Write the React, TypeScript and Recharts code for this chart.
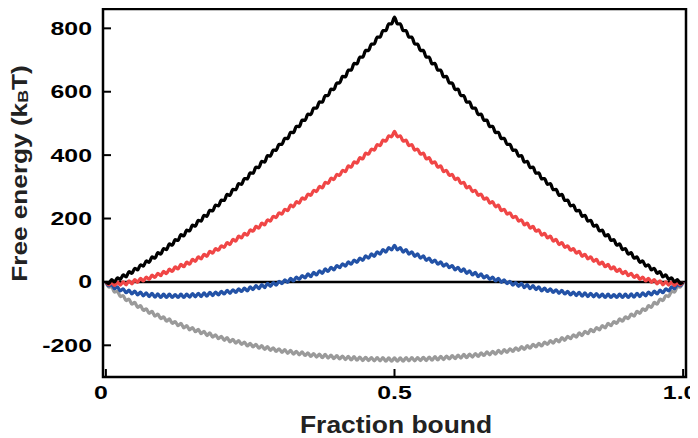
import React from 'react';
import { LineChart, Line, XAxis, YAxis, ReferenceLine, ReferenceArea, Label } from 'recharts';

// free energy (kBT) sampled every 0.005 of fraction bound, 0 -> 1
const blackSeries = [
  0, -5, 7, 0, 13, 8, 22, 16, 32, 27, 43, 38, 54, 50, 66, 62, 79, 75, 92, 88,
  105, 102, 120, 116, 133, 131, 149, 145, 163, 161, 179, 176, 194, 192, 210, 207, 226, 224, 242, 240,
  258, 257, 276, 273, 292, 291, 310, 308, 326, 325, 344, 343, 362, 361, 380, 378, 398, 397, 416, 415,
  434, 434, 453, 452, 472, 471, 491, 490, 510, 510, 529, 528, 548, 548, 568, 567, 588, 588, 608, 607,
  627, 628, 648, 647, 668, 668, 689, 688, 709, 709, 730, 730, 750, 751, 772, 772, 793, 793, 814, 814,
  835,
  814, 814, 793, 793, 772, 772, 751, 750, 730, 730, 709, 709, 688, 689, 668, 668, 647, 648, 628, 627,
  607, 608, 588, 588, 567, 568, 548, 548, 528, 529, 510, 510, 490, 491, 471, 472, 452, 453, 434, 434,
  415, 416, 397, 398, 378, 380, 361, 362, 343, 344, 325, 326, 308, 310, 291, 292, 273, 276, 257, 258,
  240, 242, 224, 226, 207, 210, 192, 194, 176, 179, 161, 163, 145, 149, 131, 133, 116, 120, 102, 105,
  88, 92, 75, 79, 62, 66, 50, 54, 38, 43, 27, 32, 16, 22, 8, 13, 0, 7, -5, 0,
];

const redSeries = [
  0, -9, -1, -11, -1, -10, 0, -9, 3, -6, 7, -1, 11, 3, 15, 8, 21, 14, 27, 20,
  33, 26, 40, 33, 47, 41, 55, 48, 62, 56, 71, 65, 79, 73, 87, 81, 96, 91, 105, 100,
  114, 109, 124, 118, 134, 129, 144, 139, 153, 148, 164, 160, 175, 170, 185, 180, 196, 192, 207, 203,
  218, 214, 229, 225, 242, 237, 253, 249, 265, 261, 277, 273, 289, 285, 301, 297, 314, 311, 327, 323,
  339, 336, 352, 348, 366, 362, 379, 375, 392, 388, 406, 403, 419, 416, 433, 430, 447, 444, 461, 458,
  475,
  458, 461, 444, 447, 430, 433, 416, 419, 403, 406, 388, 392, 375, 379, 362, 366, 348, 352, 336, 339,
  323, 327, 311, 314, 297, 301, 285, 289, 273, 277, 261, 265, 249, 253, 237, 242, 225, 229, 214, 218,
  203, 207, 192, 196, 180, 185, 170, 175, 160, 164, 148, 153, 139, 144, 129, 134, 118, 124, 109, 114,
  100, 105, 91, 96, 81, 87, 73, 79, 65, 71, 56, 62, 48, 55, 41, 47, 33, 40, 26, 33,
  20, 27, 14, 21, 8, 15, 3, 11, -1, 7, -6, 3, -9, 0, -10, -1, -11, -1, -9, 0,
];

const blueSeries = [
  0, -12, -8, -21, -16, -28, -22, -34, -26, -38, -29, -41, -32, -44, -35, -46, -36, -48, -38, -49,
  -39, -49, -39, -49, -40, -49, -39, -49, -39, -48, -37, -47, -36, -46, -35, -45, -33, -43, -32, -41,
  -30, -38, -27, -36, -25, -33, -22, -30, -20, -28, -16, -24, -12, -21, -9, -18, -5, -14, -2, -10,
  2, -5, 6, -1, 11, 3, 15, 8, 20, 13, 25, 17, 30, 22, 35, 27, 41, 33, 46, 38,
  51, 45, 57, 50, 63, 56, 69, 62, 75, 68, 82, 75, 88, 81, 95, 88, 102, 94, 108, 101,
  115,
  101, 108, 94, 102, 88, 95, 81, 88, 75, 82, 68, 75, 62, 69, 56, 63, 50, 57, 45, 51,
  38, 46, 33, 41, 27, 35, 22, 30, 17, 25, 13, 20, 8, 15, 3, 11, -1, 6, -5, 2,
  -10, -2, -14, -5, -18, -9, -21, -12, -24, -16, -28, -20, -30, -22, -33, -25, -36, -27, -38, -30,
  -41, -32, -43, -33, -45, -35, -46, -36, -47, -37, -48, -39, -49, -39, -49, -40, -49, -39, -49, -39,
  -49, -38, -48, -36, -46, -35, -44, -32, -41, -29, -38, -26, -34, -22, -28, -16, -21, -8, -12, 0,
];

const graySeries = [
  0, -16, -15, -32, -30, -46, -43, -59, -54, -70, -65, -80, -75, -90, -85, -99, -93, -108, -102, -116,
  -110, -124, -117, -131, -125, -138, -131, -145, -138, -151, -144, -157, -150, -163, -156, -169, -161, -174, -167, -179,
  -172, -184, -176, -189, -181, -193, -185, -197, -190, -202, -194, -205, -197, -209, -201, -213, -204, -216, -208, -219,
  -211, -222, -214, -225, -216, -228, -219, -230, -221, -232, -224, -235, -226, -237, -228, -239, -229, -240, -231, -242,
  -233, -243, -234, -245, -235, -246, -236, -247, -237, -248, -238, -248, -239, -249, -239, -249, -239, -250, -240, -250,
  -240,
  -250, -240, -250, -239, -249, -239, -249, -239, -248, -238, -248, -237, -247, -236, -246, -235, -245, -234, -243, -233,
  -242, -231, -240, -229, -239, -228, -237, -226, -235, -224, -232, -221, -230, -219, -228, -216, -225, -214, -222, -211,
  -219, -208, -216, -204, -213, -201, -209, -197, -205, -194, -202, -190, -197, -185, -193, -181, -189, -176, -184, -172,
  -179, -167, -174, -161, -169, -156, -163, -150, -157, -144, -151, -138, -145, -131, -138, -125, -131, -117, -124, -110,
  -116, -102, -108, -93, -99, -85, -90, -75, -80, -65, -70, -54, -59, -43, -46, -30, -32, -15, -16, 0,
];

const xTicks = [0, 0.5, 1];
const xTickLabels = ['0', '0.5', '1.0'];
const xTickShift = [-5, 0, -3];
const yTicks = [-200, 0, 200, 400, 600, 800];

const data = blackSeries.map((v, i) => ({
  f: i / 200,
  black: v,
  red: redSeries[i],
  blue: blueSeries[i],
  gray: graySeries[i],
}));

const FONT = '"Liberation Sans", Arial, Helvetica, sans-serif';

const YTick = ({ x, y, payload }: any) => (
  <g>
    <line x1={x} y1={y} x2={x + 8} y2={y} stroke="#000" strokeWidth={2} />
    <text
      transform={`translate(${x - 11},${y + 6.5}) scale(1.38,1)`}
      textAnchor="end"
      fontFamily={FONT}
      fontWeight="bold"
      fontSize={18}
      fill="#000"
    >
      {payload.value}
    </text>
  </g>
);

const XTick = ({ x, y, payload, index }: any) => (
  <g>
    <line x1={x} y1={y} x2={x} y2={y - 8} stroke="#000" strokeWidth={2} />
    <text
      transform={`translate(${x + (xTickShift[index] ?? 0)},${y + 22}) scale(1.38,1)`}
      textAnchor="middle"
      fontFamily={FONT}
      fontWeight="bold"
      fontSize={18}
      fill="#000"
    >
      {xTickLabels[index] ?? payload.value}
    </text>
  </g>
);

const App = () => {
  return (
    <LineChart width={690} height={430} data={data} margin={{ top: 1, right: 12, left: 0, bottom: 0 }}>
      <XAxis
        type="number"
        dataKey="f"
        domain={[-0.005, 1.005]}
        allowDataOverflow
        ticks={xTicks}
        interval={0}
        height={61}
        axisLine={false}
        tickLine={false}
        tickSize={0}
        tickMargin={0}
        tick={(p: any) => <XTick {...p} />}
      >
        <Label
          content={() => (
            <text
              transform="translate(388,425) scale(1.1,1)"
              textAnchor="middle"
              fontFamily={FONT}
              fontWeight="bold"
              fontSize={24}
              fill="#222"
            >
              Fraction bound
            </text>
          )}
        />
      </XAxis>
      <YAxis
        type="number"
        domain={[-300, 861]}
        allowDataOverflow
        ticks={yTicks}
        interval={0}
        width={95}
        axisLine={false}
        tickLine={false}
        tickSize={0}
        tickMargin={0}
        tick={(p: any) => <YTick {...p} />}
      >
        <Label
          content={() => (
            <text
              transform="translate(19,165.5) rotate(-90) scale(1.19,1)"
              textAnchor="middle"
              fontFamily={FONT}
              fontWeight="bold"
              fontSize={22}
              fill="#222"
            >
              Free energy (k<tspan fontSize={15} dy={1}>B</tspan><tspan dy={-1}>T)</tspan>
            </text>
          )}
        />
      </YAxis>
      <ReferenceArea
        x1={-0.005}
        x2={1.005}
        y1={-300}
        y2={861}
        fill="none"
        fillOpacity={0}
        stroke="#000"
        strokeWidth={2.5}
        ifOverflow="visible"
      />
      <ReferenceLine y={0} stroke="#000" strokeWidth={2.5} />
      <Line type="monotone" dataKey="gray" stroke="#9a9a9a" strokeWidth={3.3} dot={false} isAnimationActive={false} />
      <Line type="monotone" dataKey="blue" stroke="#2352a6" strokeWidth={3.3} dot={false} isAnimationActive={false} />
      <Line type="monotone" dataKey="red" stroke="#f04646" strokeWidth={3.3} dot={false} isAnimationActive={false} />
      <Line type="monotone" dataKey="black" stroke="#000" strokeWidth={3.3} dot={false} isAnimationActive={false} />
    </LineChart>
  );
};

export default App;
